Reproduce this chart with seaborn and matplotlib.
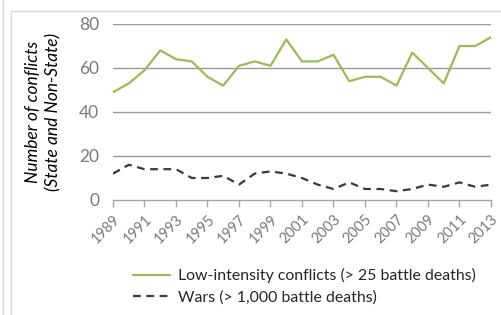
import matplotlib
matplotlib.use("Agg")
import matplotlib.pyplot as plt
import seaborn as sns
import pandas as pd
from matplotlib.lines import Line2D

years = list(range(1989, 2014))
low_intensity = [49, 53, 59, 68, 64, 63, 56, 52, 61, 63, 61, 73, 63, 63, 66, 54, 56, 56, 52, 67, 60, 53, 70, 70, 74]
wars = [12, 16, 14, 14, 14, 10, 10, 11, 7, 12, 13, 12, 10, 7, 5, 8, 5, 5, 4, 5, 7, 6, 8, 6, 7]
label_low = "Low-intensity conflicts (> 25 battle deaths)"
label_wars = "Wars (> 1,000 battle deaths)"
y_ticks = [0, 20, 40, 60, 80]
x_ticks = list(range(1989, 2014, 2))

sns.set_theme(style="white")
plt.rcParams['font.family'] = ['Lato', 'DejaVu Sans']

df = pd.DataFrame({"year": years, "low": low_intensity, "wars": wars})

W, H = 501, 315
fig = plt.figure(figsize=(W / 100, H / 100), dpi=100)
ax = fig.add_axes([113 / W, 1 - 200 / H, (491 - 113) / W, (200 - 24) / H])

sns.lineplot(data=df, x="year", y="low", ax=ax, color="#9bbb59", linewidth=1.6, label=label_low)
sns.lineplot(data=df, x="year", y="wars", ax=ax, color="#3a3a3a", linewidth=1.6,
             linestyle=(0, (3.5, 2.5)), label=label_wars)

ax.set_xlim(1989, 2013)
ax.set_ylim(0, 80)
ax.set_yticks(y_ticks)
ax.set_xticks(x_ticks)
ax.set_xticklabels([str(y) for y in x_ticks], rotation=45, ha="right", rotation_mode="anchor",
                   fontsize=10.5, color="#7a7a7a")
ax.set_yticklabels([str(v) for v in y_ticks], fontsize=12.5, color="#7a7a7a")
ax.set_xlabel("")
ax.set_ylabel("")
for v in y_ticks[1:]:
    ax.axhline(v, color="#9a9a9a", linewidth=1.0, zorder=0)
for s in ["top", "right", "left"]:
    ax.spines[s].set_visible(False)
ax.spines["bottom"].set_color("#a6a6a6")
ax.spines["bottom"].set_linewidth(1.0)
ax.tick_params(axis="x", which="major", length=5, width=1, color="#a6a6a6", direction="out", pad=4, bottom=True)
ax.tick_params(axis="y", length=0, pad=10)
ax.grid(False)
ax.get_legend().remove()

handles, labels = ax.get_legend_handles_labels()
fig.legend(handles, labels, loc="upper left", bbox_to_anchor=(127 / W, 1 - 262 / H), frameon=False,
           fontsize=11.4, handlelength=2.3, handletextpad=0.5, labelspacing=0.45, borderaxespad=0)

fig.text(33 / W, 1 - 112 / H, "Number of conflicts", rotation=90, ha="center", va="center",
         fontsize=12.5, style="italic", color="black")
fig.text(53 / W, 1 - 112 / H, "(State and Non-State)", rotation=90, ha="center", va="center",
         fontsize=12.5, style="italic", color="black")

fig.add_artist(Line2D([11 / W, 11 / W], [0, 1 - 11 / H], transform=fig.transFigure, color="#d9d9d9", lw=1))
fig.add_artist(Line2D([11 / W, 1], [1 - 11 / H, 1 - 11 / H], transform=fig.transFigure, color="#d9d9d9", lw=1))
fig.add_artist(Line2D([3 / W, 3 / W], [0, 1], transform=fig.transFigure, color="#d9d9d9", lw=1))

fig.savefig("out.png", dpi=100)
